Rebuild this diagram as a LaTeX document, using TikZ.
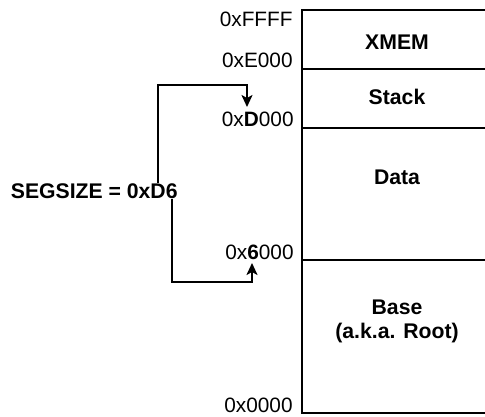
\documentclass[tikz,border=0pt]{standalone}
\usepackage{fontspec}
\setmainfont{Liberation Sans}
\usetikzlibrary{arrows.meta}

\begin{document}
\begin{tikzpicture}[x=0.5pt,y=-0.5pt,>={Stealth[length=6pt,width=5.5pt,inset=1.5pt]},
  font=\fontsize{10.4}{12}\selectfont,
  addr/.style={anchor=east,inner sep=0pt},
  region/.style={font=\fontsize{10.6}{12}\selectfont\bfseries,align=center,inner sep=0pt},
  wall/.style={line width=1.2pt},
  link/.style={line width=1pt}]
\useasboundingbox (0,0) rectangle (485,416);
\begin{scope}
\clip (0,0) rectangle (485,416);
\draw[wall] (490,10) -- (302,10) -- (302,413) -- (490,413);
\draw[wall] (302,69) -- (490,69);
\draw[wall] (302,128) -- (490,128);
\draw[wall] (302,260) -- (490,260);
\end{scope}
% addresses
\node[addr] (aF) at (293,19) {0xFFFF};
\node[addr] (aE) at (293,60) {0xE000};
\node[addr] (aD) at (294,119) {0x\textbf{D}000};
\node[addr] (a6) at (294,252) {0x\textbf{6}000};
\node[addr] (a0) at (293,405) {0x0000};
% regions
\node[region] (xmem) at (397,42) {XMEM};
\node[region] (stack) at (397,97) {Stack};
\node[region] (data) at (397,177) {Data};
\node[region] (base) at (397,321) {Base\\(a.k.a. Root)};
% segment size
\node[region,anchor=east] (seg) at (178,191) {SEGSIZE = 0xD6};
\coordinate (tipD) at (247,107);
\coordinate (tip6) at (252,263);
\draw[link,->] (seg.north -| 158,0) |- (247,85) -- (tipD);
\draw[link,->] (seg.south -| 172,0) |- (252,282) -- (tip6);
\end{tikzpicture}
\end{document}
